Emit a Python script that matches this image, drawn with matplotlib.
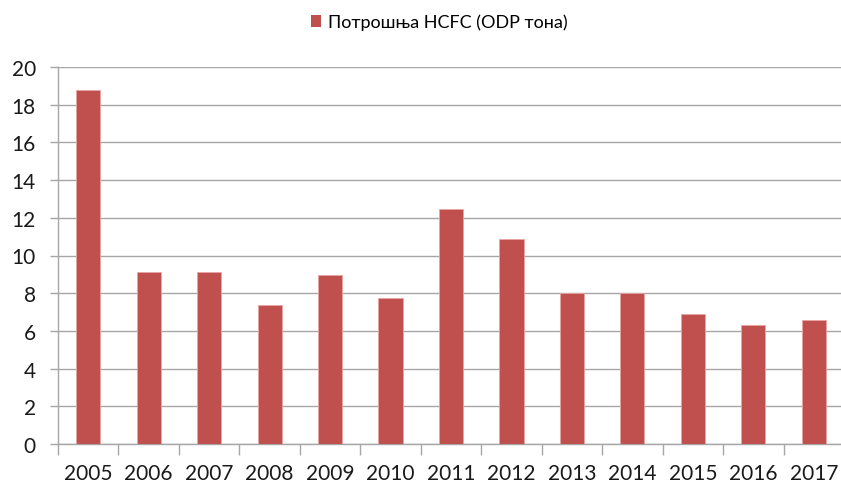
import numpy as np
import matplotlib.pyplot as plt
from matplotlib.patches import Patch

# data
years = ['2005', '2006', '2007', '2008', '2009', '2010', '2011',
         '2012', '2013', '2014', '2015', '2016', '2017']
hcfc = [18.8, 9.1, 9.15, 7.4, 8.97, 7.75, 12.47, 10.9, 8.0, 8.0, 6.9, 6.33, 6.6]
series_name = 'Потрошња HCFC (ODP тона)'

bar_color = '#C0504D'
grid_color = '#A6A6A6'

plt.rcParams['font.family'] = ['Lato', 'DejaVu Sans']

fig = plt.figure(figsize=(8.41, 4.85), dpi=100)
ax = fig.add_axes([58 / 841, 40 / 485, 786 / 841, 377 / 485])

x = np.arange(len(years))
ax.bar(x, hcfc, width=0.4, color=bar_color, edgecolor='#E8A5A3',
       linewidth=0.6, zorder=3)

ax.set_xlim(-0.5, len(years) - 0.5)
ax.set_ylim(0, 20)
ax.set_yticks(range(0, 21, 2))
# tick marks between categories, labels under the bars
ax.set_xticks(np.arange(len(years) + 1) - 0.5)
ax.set_xticklabels([])
ax.set_xticks(x, minor=True)
ax.set_xticklabels(years, minor=True)
ax.tick_params(axis='x', which='minor', length=0, pad=14, labelsize=15,
               labelcolor='#1a1a1a')
ax.tick_params(axis='x', which='major', length=8, color=grid_color, width=1)
ax.tick_params(axis='y', length=6, color=grid_color, width=1, pad=10,
               labelsize=15, labelcolor='#1a1a1a')

ax.yaxis.grid(True, color=grid_color, linewidth=1, zorder=0)
for s in ['top', 'right']:
    ax.spines[s].set_visible(False)
for s in ['left', 'bottom']:
    ax.spines[s].set_color(grid_color)
    ax.spines[s].set_linewidth(1)
ax.set_axisbelow(True)

handle = Patch(facecolor=bar_color, edgecolor='none')
fig.legend([handle], [series_name], loc='center', bbox_to_anchor=(439 / 841, 1 - 23 / 485),
           frameon=False, fontsize=13, handlelength=0.6, handleheight=0.6,
           handletextpad=0.35)

fig.savefig('out.png', dpi=100)
